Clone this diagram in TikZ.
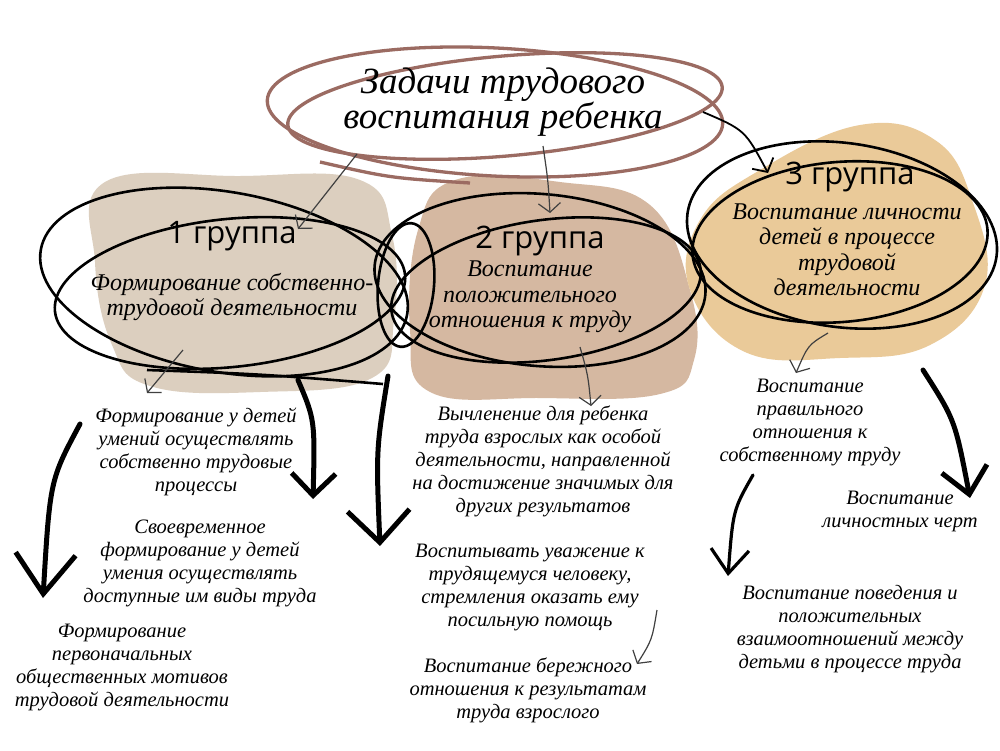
\documentclass[tikz,border=0pt]{standalone}
\usepackage{fontspec}
\setmainfont{Liberation Serif}
\newfontfamily\grp{Open Sans}
\usetikzlibrary{arrows.meta}
\definecolor{blobA}{HTML}{DCCFBF}
\definecolor{blobB}{HTML}{D5B8A1}
\definecolor{blobC}{HTML}{EACA99}
\definecolor{titlebrown}{HTML}{9B6B62}
\definecolor{thin}{HTML}{404040}
\tikzset{
  titletext/.style={font=\fontsize{37}{34}\selectfont\itshape, align=center, inner sep=0pt},
  grptext/.style={font=\grp\fontsize{31}{34}\selectfont, inner sep=0pt},
  desctext/.style={font=\fontsize{24}{25.5}\selectfont\itshape, align=center, inner sep=0pt},
  itemtext/.style={font=\fontsize{20.5}{23}\selectfont\itshape, align=center, inner sep=0pt},
  loopline/.style={draw=black, line width=2.6pt},
  thinarrow/.style={draw=thin, line width=1.2pt, -{Straight Barb[length=9pt,width=22pt]}},
  blackthin/.style={draw=black, line width=1.8pt, -{Straight Barb[length=10pt,width=24pt]}},
  thickarrow/.style={draw=black, line width=5pt, line cap=round},
  medarrow/.style={draw=black, line width=3.2pt, line cap=round, -{Straight Barb[length=24pt,width=38pt]}},
}
\begin{document}
\begin{tikzpicture}[x=1pt,y=-1pt]
\useasboundingbox (0,0) rectangle (1000,750);
\fill[white] (0,0) rectangle (1000,750);

% blobs
\fill[blobA] plot[smooth cycle, tension=0.7] coordinates {(105,182) (240,176) (360,180) (392,235) (394,320) (372,378) (260,392) (150,386) (112,345) (95,262)};
\fill[blobB] plot[smooth cycle, tension=0.7] coordinates {(455,180) (560,182) (650,205) (690,290) (694,360) (660,394) (540,398) (430,392) (410,330) (418,230)};
\fill[blobC] plot[smooth cycle, tension=0.7] coordinates {(760,170) (860,125) (935,140) (972,200) (985,285) (930,345) (840,358) (745,352) (690,290) (700,220)};

% title loops
\draw[titlebrown, line width=3.3pt] (495,112) ellipse[x radius=228, y radius=64, rotate=-3];
\draw[titlebrown, line width=3.3pt] (505,106) ellipse[x radius=218, y radius=50, rotate=5];
\draw[titlebrown, line width=3.3pt] (320,162) .. controls (390,178) .. (470,183);

% title
\node[titletext] (title) at (503,102) {Задачи трудового\\воспитания ребенка};

% group loops
\draw[loopline] (224,282) ellipse[x radius=186, y radius=90, rotate=-10];
\draw[loopline] (230,293) ellipse[x radius=176, y radius=74, rotate=6];
\draw[loopline] (147,370) .. controls (260,374) .. (383,384);
\draw[loopline] (540,280) ellipse[x radius=166, y radius=86, rotate=-5];
\draw[loopline] (546,290) ellipse[x radius=156, y radius=70, rotate=8];
\draw[loopline] (406,285) ellipse[x radius=28, y radius=62, rotate=-5];
\draw[loopline] (842,235) ellipse[x radius=156, y radius=92, rotate=-8];
\draw[loopline] (840,242) ellipse[x radius=148, y radius=80, rotate=5];

% group labels
\node[grptext] (g1) at (232,236) {1 группа};
\node[grptext] (g2) at (540,241) {2 группа};
\node[grptext] (g3) at (850,177) {3 группа};
\node[desctext] (d1) at (232,297) {Формирование собственно-\\трудовой деятельности};
\node[desctext] (d2) at (530,297) {Воспитание\\положительного\\отношения к труду};
\node[desctext] (d3) at (847,250) {Воспитание личности\\детей в процессе\\трудовой\\деятельности};

% items group 1
\node[itemtext] (a1) at (196,452) {Формирование у детей\\умений осуществлять\\собственно трудовые\\процессы};
\node[itemtext] (a2) at (200,563) {Своевременное\\формирование у детей\\умения осуществлять\\доступные им виды труда};
\node[itemtext] (a3) at (122,667) {Формирование\\первоначальных\\общественных мотивов\\трудовой деятельности};
% items group 2
\node[itemtext] (b1) at (543,461) {Вычленение для ребенка\\труда взрослых как особой\\деятельности, направленной\\на достижение значимых для\\других результатов};
\node[itemtext] (b2) at (530,587) {Воспитывать уважение к\\трудящемуся человеку,\\стремления оказать ему\\посильную помощь};
\node[itemtext] (b3) at (528,690) {Воспитание бережного\\отношения к результатам\\труда взрослого};
% items group 3
\node[itemtext] (c1) at (810,422) {Воспитание\\правильного\\отношения к\\собственному труду};
\node[itemtext] (c2) at (900,511) {Воспитание\\личностных черт};
\node[itemtext] (c3) at (850,629) {Воспитание поведения и\\положительных\\взаимоотношений между\\детьми в процессе труда};

% coordinates for connectors
\coordinate (t1s) at (357,154);
\coordinate (t1e) at (298,229);
\coordinate (t2s) at (543,146);
\coordinate (t2e) at (550,213);
\coordinate (t3s) at (703,112);
\coordinate (t3e) at (768,173);
\coordinate (g1s) at (183,350);
\coordinate (g1e) at (147,393);
\coordinate (g2s) at (580,347);
\coordinate (g2e) at (591,406);
\coordinate (g3s) at (828,333);
\coordinate (g3e) at (796,373);
\coordinate (b2s) at (657,610);
\coordinate (b2e) at (637,664);
\coordinate (k1s) at (80,424);
\coordinate (k1e) at (43,598);
\coordinate (k2s) at (298,380);
\coordinate (k2e) at (313,499);
\coordinate (k3s) at (388,376);
\coordinate (k3e) at (380,546);
\coordinate (k4s) at (923,370);
\coordinate (k4e) at (970,498);
\coordinate (k5s) at (753,475);
\coordinate (k5e) at (728,576);

% thin arrows
\draw[thinarrow] (t1s) -- (t1e);
\draw[thinarrow] (t2s) .. controls (548,180) .. (t2e);
\draw[blackthin] (t3s) .. controls (745,130) .. (t3e);
\draw[thinarrow] (g1s) -- (g1e);
\draw[thinarrow] (g2s) .. controls (588,375) .. (g2e);
\draw[thinarrow] (g3s) .. controls (808,345) .. (g3e);
\draw[thinarrow] (b2s) .. controls (652,640) .. (b2e);

% thick arrows
\draw[thickarrow, -{Straight Barb[length=40pt,width=60pt]}] (k1s) .. controls (50,480) .. (k1e);
\draw[thickarrow, -{Straight Barb[length=22pt,width=44pt]}] (k2s) .. controls (315,420) .. (k2e);
\draw[thickarrow, -{Straight Barb[length=32pt,width=62pt]}] (k3s) .. controls (376,450) .. (k3e);
\draw[thickarrow, -{Straight Barb[length=26pt,width=46pt]}] (k4s) .. controls (955,420) .. (k4e);
\draw[medarrow] (k5s) .. controls (733,510) .. (k5e);
\end{tikzpicture}
\end{document}
